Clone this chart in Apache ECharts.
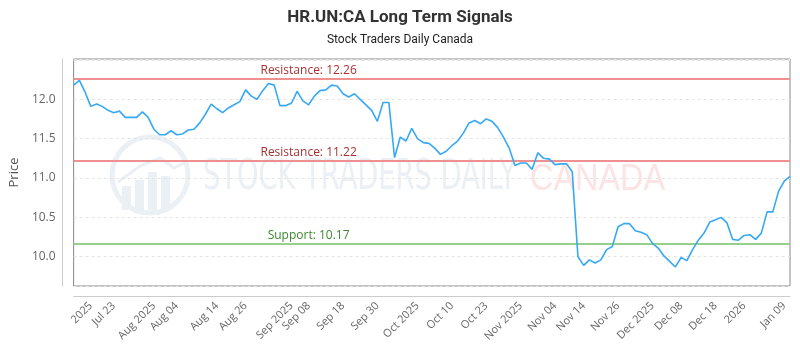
<!DOCTYPE html>
<html><head><meta charset="utf-8">
<script src="https://cdn.jsdelivr.net/npm/echarts@6/dist/echarts.min.js"></script>
<style>html,body{margin:0;padding:0;background:#fff}#c{width:800px;height:350px}</style>
</head><body><div id="c"></div>
<script>
// closing prices, one per trading session (left to right)
const prices = [
  12.18, 12.24, 12.09, 11.91, 11.94, 11.91, 11.86, 11.83, 11.85, 11.77,
  11.77, 11.77, 11.84, 11.77, 11.62, 11.55, 11.55, 11.60, 11.55, 11.56,
  11.61, 11.62, 11.70, 11.81, 11.94, 11.88, 11.83, 11.89, 11.93, 11.97,
  12.12, 12.04, 12.00, 12.11, 12.20, 12.18, 11.92, 11.92, 11.95, 12.10,
  11.98, 11.93, 12.04, 12.11, 12.12, 12.18, 12.17, 12.07, 12.03, 12.07,
  12.00, 11.93, 11.86, 11.72, 11.96, 11.96, 11.26, 11.52, 11.47, 11.63,
  11.50, 11.45, 11.44, 11.38, 11.30, 11.34, 11.41, 11.47, 11.57, 11.70,
  11.73, 11.69, 11.75, 11.72, 11.64, 11.52, 11.38, 11.16, 11.19, 11.19,
  11.11, 11.32, 11.25, 11.24, 11.17, 11.18, 11.18, 11.08, 10.00, 9.89,
  9.96, 9.92, 9.96, 10.09, 10.13, 10.38, 10.42, 10.42, 10.33, 10.31,
  10.28, 10.17, 10.11, 10.01, 9.94, 9.87, 9.99, 9.95, 10.09, 10.21,
  10.30, 10.44, 10.47, 10.50, 10.43, 10.22, 10.21, 10.27, 10.28, 10.22,
  10.30, 10.57, 10.57, 10.83, 10.96, 11.02
];
// x-axis tick labels: [session index, text]
const tickLabels = [
  [3, '2025'], [7, 'Jul 23'], [14, 'Aug 2025'], [18, 'Aug 04'], [25, 'Aug 14'],
  [30, 'Aug 26'], [38, 'Sep 2025'], [41, 'Sep 08'], [47, 'Sep 18'], [53, 'Sep 30'],
  [60, 'Oct 2025'], [66, 'Oct 10'], [72, 'Oct 23'], [78, 'Nov 2025'], [84, 'Nov 04'],
  [89, 'Nov 14'], [95, 'Nov 26'], [101, 'Dec 2025'], [106, 'Dec 08'], [112, 'Dec 18'],
  [117, '2026'], [124, 'Jan 09']
];
const yTickValues = [10.0, 10.5, 11.0, 11.5, 12.0];
const yRange = [9.628, 12.512];
const resistanceLevels = [12.26, 11.22];
const supportLevels = [10.17];
const levelLabelIndex = 41;

const tickMap = {};
tickLabels.forEach(([i, t]) => { tickMap[i] = t; });
const categories = prices.map((_, i) => tickMap[i] !== undefined ? tickMap[i] : '');

const chart = echarts.init(document.getElementById('c'), null, {renderer: 'canvas'});

const levelPoints = [];
resistanceLevels.forEach(v => levelPoints.push({
  coord: [levelLabelIndex, v], value: v,
  label: {formatter: 'Resistance: ' + v.toFixed(2), color: '#a83232'}
}));
supportLevels.forEach(v => levelPoints.push({
  coord: [levelLabelIndex, v], value: v,
  label: {formatter: 'Support: ' + v.toFixed(2), color: '#3b8a2e'}
}));
const levelLines = [];
resistanceLevels.forEach(v => levelLines.push({yAxis: v, lineStyle: {color: '#ee9090'}}));
supportLevels.forEach(v => levelLines.push({yAxis: v, lineStyle: {color: '#96d08c'}}));

const wm = '#ebf0f5';
const option = {
  animation: false,
  backgroundColor: '#fff',
  textStyle: {fontFamily: 'Open Sans'},
  title: {
    text: 'HR.UN:CA Long Term Signals',
    subtext: 'Stock Traders Daily Canada',
    left: 'center', top: 4, itemGap: 8,
    textStyle: {fontFamily: 'Roboto', fontWeight: 'bold', fontSize: 17, color: '#333'},
    subtextStyle: {fontFamily: 'Roboto', fontSize: 12, color: '#222'}
  },
  graphic: [
    {type: 'circle', z: 0, silent: true, shape: {cx: 150, cy: 175, r: 38}, style: {fill: 'none', stroke: wm, lineWidth: 5}},
    {type: 'rect', z: 0, silent: true, shape: {x: 122, y: 186, width: 9, height: 24}, style: {fill: wm}},
    {type: 'rect', z: 0, silent: true, shape: {x: 135, y: 180, width: 9, height: 30}, style: {fill: wm}},
    {type: 'rect', z: 0, silent: true, shape: {x: 148, y: 172, width: 9, height: 38}, style: {fill: wm}},
    {type: 'rect', z: 0, silent: true, shape: {x: 161, y: 176, width: 9, height: 34}, style: {fill: wm}},
    {type: 'polyline', z: 0, silent: true, shape: {points: [[118, 182], [140, 166], [160, 158], [174, 168], [186, 162]]}, style: {stroke: wm, lineWidth: 3, fill: 'none'}},
    {type: 'text', z: 0, silent: true, x: 203, y: 178, scaleX: 0.65, style: {text: 'STOCK TRADERS DAILY', font: '42px "DejaVu Sans"', fill: wm, verticalAlign: 'middle'}},
    {type: 'text', z: 0, silent: true, x: 530, y: 180, scaleX: 0.9, style: {text: 'CANADA', font: '36px "Liberation Sans"', fill: '#fce4e4', verticalAlign: 'middle'}}
  ],
  grid: {left: 71, right: 10, top: 59, bottom: 64, show: true, borderColor: '#888', borderWidth: 1, containLabel: false},
  xAxis: {
    type: 'category', data: categories, boundaryGap: false, offset: 10,
    axisLine: {show: true, lineStyle: {color: '#ccc'}},
    axisTick: {show: false},
    splitLine: {show: false},
    axisLabel: {
      interval: (i, v) => v !== '', rotate: 45, color: '#666', fontSize: 11, margin: 8,
      hideOverlap: false
    }
  },
  yAxis: {
    type: 'value', min: yRange[0], max: yRange[1], splitNumber: 5, offset: 11,
    name: 'Price', nameLocation: 'middle', nameGap: 38, nameRotate: 90,
    nameTextStyle: {color: '#555', fontSize: 13},
    axisLine: {show: true, lineStyle: {color: '#ccc'}},
    axisTick: {show: false},
    axisLabel: {
      color: '#666', fontSize: 12, margin: 7, showMinLabel: false, showMaxLabel: false,
      formatter: v => yTickValues.some(t => Math.abs(t - v) < 1e-6) ? v.toFixed(1) : ''
    },
    splitLine: {show: true, lineStyle: {color: '#e4e4e4', type: [3, 3]}}
  },
  series: [{
    type: 'line', data: prices, symbol: 'none', z: 5,
    lineStyle: {color: '#36a9f4', width: 1.6},
    markLine: {
      silent: true, symbol: ['none', 'none'], animation: false,
      label: {show: false},
      lineStyle: {type: 'solid', width: 2},
      data: levelLines
    },
    markPoint: {
      silent: true, symbol: 'circle', symbolSize: 0, animation: false,
      label: {show: true, position: 'top', distance: 2, fontSize: 12, fontFamily: 'Open Sans'},
      data: levelPoints
    }
  }]
};
chart.setOption(option);
</script>
</body></html>
